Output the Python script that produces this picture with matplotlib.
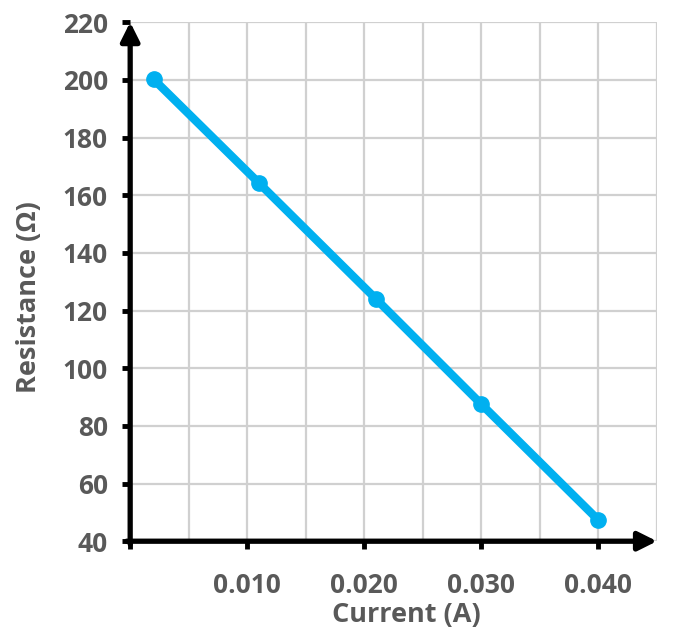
import matplotlib
matplotlib.use("Agg")
import matplotlib.pyplot as plt
import numpy as np

current = [0.002, 0.011, 0.021, 0.030, 0.040]
resistance = [200.2, 164.2, 124.0, 87.5, 47.3]

x_ticks = [0.0, 0.010, 0.020, 0.030, 0.040]
x_labels = ["", "0.010", "0.020", "0.030", "0.040"]
y_ticks = list(range(40, 221, 20))

grey = "#595959"
plt.rcParams["font.family"] = ["Open Sans", "DejaVu Sans"]

fig = plt.figure(figsize=(6.78, 6.33), dpi=100)
ax = fig.add_axes([0.192, 0.145, 0.777, 0.820])

ax.set_xlim(0, 0.045)
ax.set_ylim(40, 220)

# grid every 0.005 on x, every 20 on y
ax.set_xticks(np.arange(0, 0.0451, 0.005), minor=True)
ax.set_xticks(x_ticks)
ax.set_xticklabels(x_labels)
ax.set_yticks(y_ticks)
ax.grid(True, which="both", color="#d0d0d0", lw=1.6, zorder=0)
ax.set_axisbelow(True)
ax.tick_params(which="minor", length=0)
ax.tick_params(which="major", direction="out", length=6, width=3.5,
               color="black", labelsize=19, labelcolor=grey)
ax.tick_params(axis="x", pad=16)
ax.tick_params(axis="y", pad=10)
for lab in ax.get_xticklabels() + ax.get_yticklabels():
    lab.set_fontweight("bold")

for s in ax.spines.values():
    s.set_visible(False)

# axes with arrow heads
arrow = dict(arrowstyle="-|>", lw=3.8, color="black", mutation_scale=28,
             shrinkA=0, shrinkB=0)
ax.annotate("", xy=(0.045, 40), xytext=(-0.0003, 40), arrowprops=arrow,
            annotation_clip=False, zorder=5)
ax.annotate("", xy=(0, 220), xytext=(0, 39), arrowprops=arrow,
            annotation_clip=False, zorder=5)

ax.plot(current, resistance, color="#00b0f0", lw=6, marker="o", ms=11,
        solid_capstyle="round", zorder=4, clip_on=False)

ax.set_xlabel("Current (A)", fontsize=19.5, fontweight="bold", color=grey)
ax.set_ylabel("Resistance (Ω)", fontsize=19.5, fontweight="bold", color=grey)
ax.xaxis.set_label_coords(0.524, -0.117)
ax.yaxis.set_label_coords(-0.168, 0.47)

fig.savefig("out.png", dpi=100)
